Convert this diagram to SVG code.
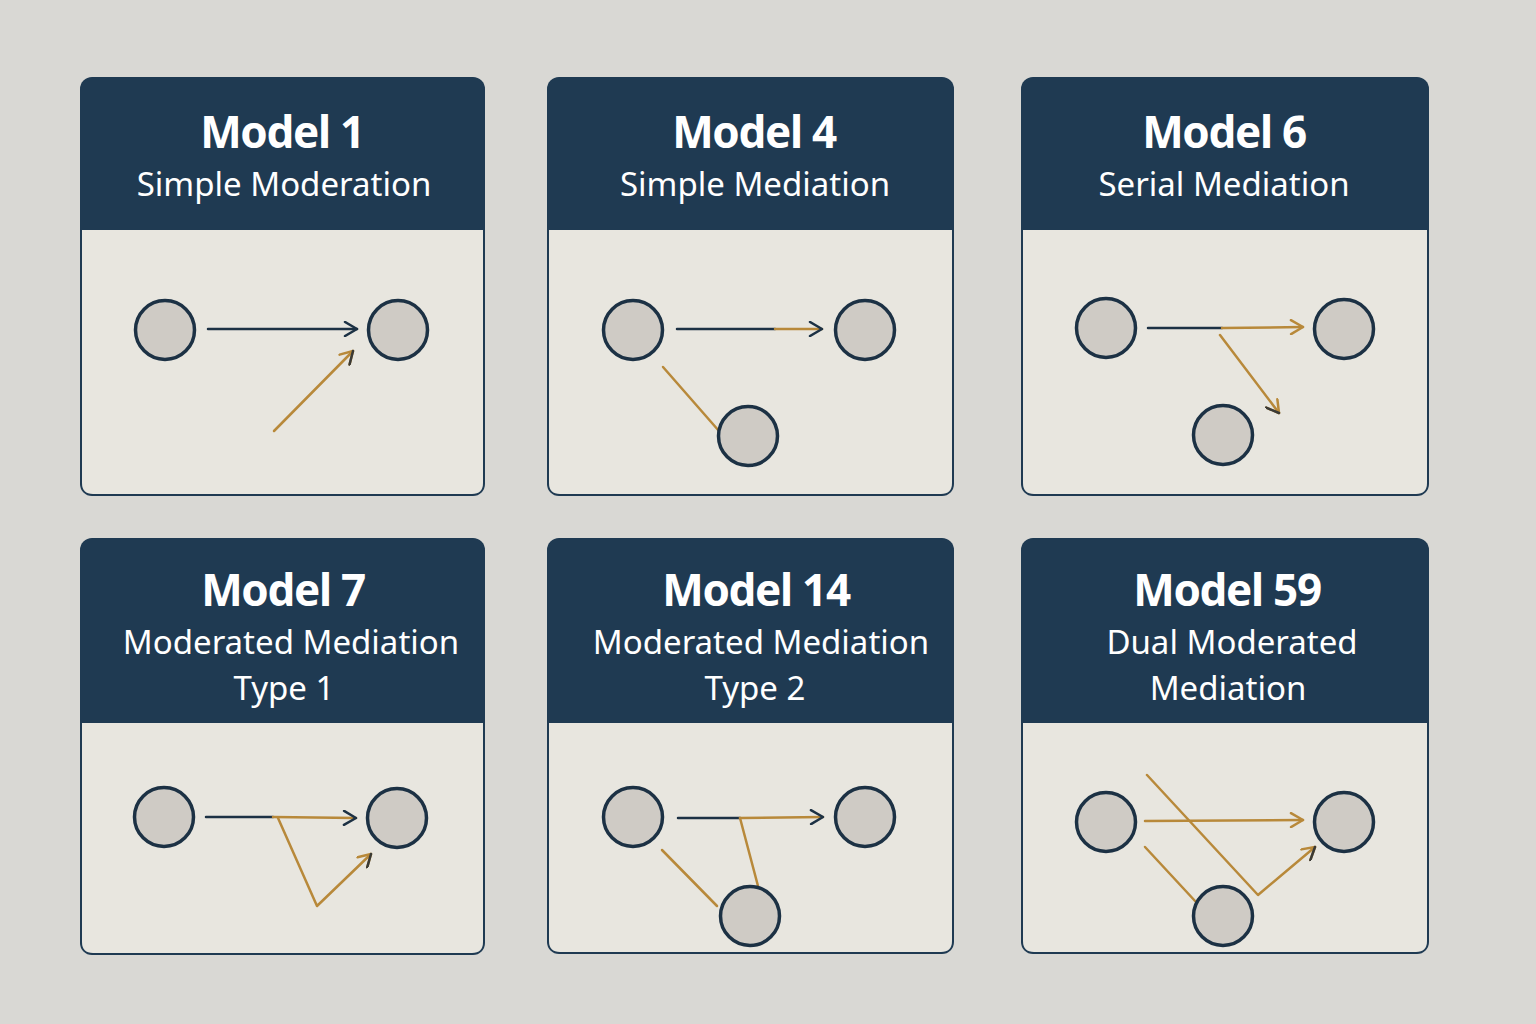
<svg xmlns="http://www.w3.org/2000/svg" width="1536" height="1024" viewBox="0 0 1536 1024">
<style>
.bg{fill:#d9d8d4}
.panel{fill:#1f3a52}
.body{fill:#e8e6df}
.t{font-family:"Noto Sans","Open Sans",sans-serif;font-weight:700;font-size:44px;fill:#ffffff;text-anchor:middle;letter-spacing:-1.3px}
.s{font-family:"Noto Sans","Open Sans",sans-serif;font-size:33px;fill:#ffffff;text-anchor:middle}
.node{fill:#cfcbc5;stroke:#1c3144;stroke-width:3.5}
.dk{stroke:#1c3144;stroke-width:2.5;fill:none;stroke-linecap:round}
.gd{stroke:#b8893a;stroke-width:2.5;fill:none;stroke-linecap:round;stroke-linejoin:round}
</style>
<defs>
<marker id="ad" viewBox="0 0 16 16" refX="14" refY="8" markerWidth="16" markerHeight="16" markerUnits="userSpaceOnUse" orient="auto">
<path d="M2,1 L14,8 L2,15" fill="none" stroke="#1c3144" stroke-width="2.5" stroke-linecap="round" stroke-linejoin="round"/>
</marker>
<marker id="ag" viewBox="0 0 16 16" refX="14" refY="8" markerWidth="16" markerHeight="16" markerUnits="userSpaceOnUse" orient="auto">
<path d="M2,1 L14,8 L2,15" fill="none" stroke="#b8893a" stroke-width="2.5" stroke-linecap="round" stroke-linejoin="round"/>
</marker>
<marker id="agd" viewBox="0 0 16 16" refX="14" refY="8" markerWidth="16" markerHeight="16" markerUnits="userSpaceOnUse" orient="auto">
<path d="M2,1 L14,8 L2,15" fill="none" stroke="#b8893a" stroke-width="2.5" stroke-linecap="round" stroke-linejoin="round"/>
<path d="M14,8 L2,15" fill="none" stroke="#3a3a36" stroke-width="2.5" stroke-linecap="round"/>
</marker>
</defs>
<rect class="bg" x="0" y="0" width="1536" height="1024"/>

<g id="panel-model1">
<rect class="panel" x="80" y="77" width="405" height="419" rx="12"/>
<path class="body" d="M82,230 H483 V483 Q483,494 472,494 H93 Q82,494 82,483 Z"/>
<text class="t" x="282" y="148">Model 1</text>
<text class="s" x="284" y="196">Simple Moderation</text>
</g>
<g id="panel-model4">
<rect class="panel" x="547" y="77" width="407" height="419" rx="12"/>
<path class="body" d="M549,230 H952 V483 Q952,494 941,494 H560 Q549,494 549,483 Z"/>
<text class="t" x="754" y="148">Model 4</text>
<text class="s" x="755" y="196">Simple Mediation</text>
</g>
<g id="panel-model6">
<rect class="panel" x="1021" y="77" width="408" height="419" rx="12"/>
<path class="body" d="M1023,230 H1427 V483 Q1427,494 1416,494 H1034 Q1023,494 1023,483 Z"/>
<text class="t" x="1224" y="148">Model 6</text>
<text class="s" x="1224" y="196">Serial Mediation</text>
</g>
<g id="panel-model7">
<rect class="panel" x="80" y="538" width="405" height="417" rx="12"/>
<path class="body" d="M82,723 H483 V942 Q483,953 472,953 H93 Q82,953 82,942 Z"/>
<text class="t" x="283" y="606">Model 7</text>
<text class="s" x="291" y="654">Moderated Mediation</text>
<text class="s" x="284" y="700">Type 1</text>
</g>
<g id="panel-model14">
<rect class="panel" x="547" y="538" width="407" height="416" rx="12"/>
<path class="body" d="M549,723 H952 V941 Q952,952 941,952 H560 Q549,952 549,941 Z"/>
<text class="t" x="756" y="606">Model 14</text>
<text class="s" x="761" y="654">Moderated Mediation</text>
<text class="s" x="755" y="700">Type 2</text>
</g>
<g id="panel-model59">
<rect class="panel" x="1021" y="538" width="408" height="416" rx="12"/>
<path class="body" d="M1023,723 H1427 V941 Q1427,952 1416,952 H1034 Q1023,952 1023,941 Z"/>
<text class="t" x="1227" y="606">Model 59</text>
<text class="s" x="1232" y="654">Dual Moderated</text>
<text class="s" x="1228" y="700">Mediation</text>
</g>

<g id="connectors">
<!-- Model 1 -->
<line class="dk" x1="208" y1="329" x2="357" y2="329" marker-end="url(#ad)"/>
<line class="gd" x1="274" y1="431" x2="353" y2="351" marker-end="url(#agd)"/>
<!-- Model 4 -->
<line class="dk" x1="677" y1="329" x2="775" y2="329"/>
<line class="gd" x1="775" y1="329" x2="822" y2="329" marker-end="url(#ad)"/>
<line class="gd" x1="663" y1="367" x2="719" y2="431"/>
<!-- Model 6 -->
<line class="dk" x1="1148" y1="328" x2="1222" y2="328"/>
<line class="gd" x1="1222" y1="328" x2="1303" y2="327" marker-end="url(#ag)"/>
<line class="gd" x1="1220" y1="335" x2="1279" y2="413" marker-end="url(#agd)"/>
<!-- Model 7 -->
<line class="dk" x1="206" y1="817" x2="273" y2="817"/>
<line class="gd" x1="273" y1="817" x2="356" y2="818" marker-end="url(#ad)"/>
<polyline class="gd" points="278,818 317,906 371,854" marker-end="url(#agd)"/>
<!-- Model 14 -->
<line class="dk" x1="678" y1="818" x2="740" y2="818"/>
<line class="gd" x1="740" y1="818" x2="823" y2="817" marker-end="url(#ad)"/>
<line class="gd" x1="740" y1="818" x2="758" y2="886"/>
<line class="gd" x1="662" y1="850" x2="717" y2="906"/>
<!-- Model 59 -->
<line class="gd" x1="1145" y1="821" x2="1303" y2="820" marker-end="url(#ag)"/>
<polyline class="gd" points="1147,775 1258,895 1315,847" marker-end="url(#agd)"/>
<line class="gd" x1="1145" y1="847" x2="1196" y2="902"/>
</g>

<g id="node-m1-a"><circle class="node" cx="165" cy="330" r="29.5"/></g>
<g id="node-m1-b"><circle class="node" cx="398" cy="330" r="29.5"/></g>
<g id="node-m4-a"><circle class="node" cx="633" cy="330" r="29.5"/></g>
<g id="node-m4-b"><circle class="node" cx="865" cy="330" r="29.5"/></g>
<g id="node-m4-c"><circle class="node" cx="748" cy="436" r="29.5"/></g>
<g id="node-m6-a"><circle class="node" cx="1106" cy="328" r="29.5"/></g>
<g id="node-m6-b"><circle class="node" cx="1344" cy="329" r="29.5"/></g>
<g id="node-m6-c"><circle class="node" cx="1223" cy="435" r="29.5"/></g>
<g id="node-m7-a"><circle class="node" cx="164" cy="817" r="29.5"/></g>
<g id="node-m7-b"><circle class="node" cx="397" cy="818" r="29.5"/></g>
<g id="node-m14-a"><circle class="node" cx="633" cy="817" r="29.5"/></g>
<g id="node-m14-b"><circle class="node" cx="865" cy="817" r="29.5"/></g>
<g id="node-m14-c"><circle class="node" cx="750" cy="916" r="29.5"/></g>
<g id="node-m59-a"><circle class="node" cx="1106" cy="822" r="29.5"/></g>
<g id="node-m59-b"><circle class="node" cx="1344" cy="822" r="29.5"/></g>
<g id="node-m59-c"><circle class="node" cx="1223" cy="916" r="29.5"/></g>
</svg>
